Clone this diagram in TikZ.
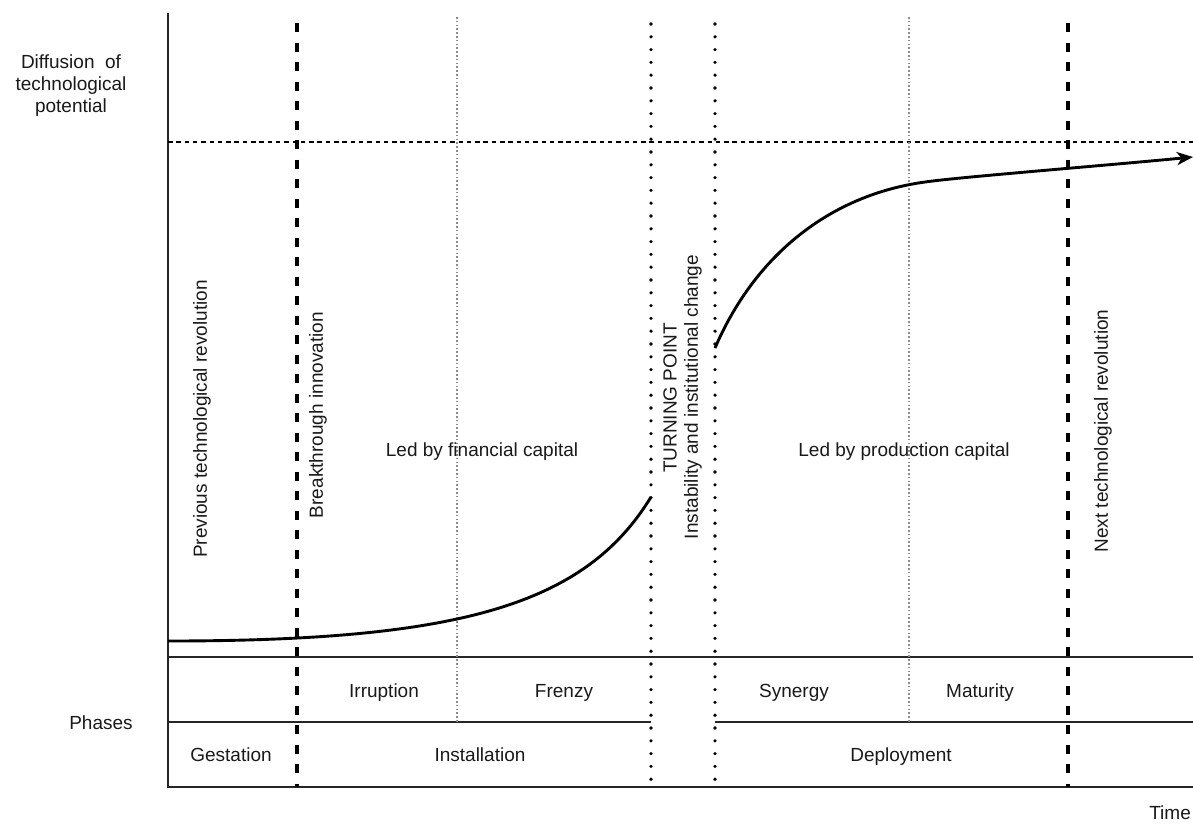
\documentclass[tikz,border=0pt]{standalone}
\usepackage{fontspec}
\setmainfont{Liberation Sans}
\usetikzlibrary{arrows.meta}
\begin{document}
\begin{tikzpicture}[x=1pt,y=-1pt,>={Stealth[length=16pt,width=13pt,inset=4.5pt]},
	lbl/.style={font=\fontsize{19}{22}\selectfont,text=black!90,inner sep=0pt},
	row/.style={lbl,anchor=base},
	vlbl/.style={lbl,rotate=90},
	era/.style={line width=3.2pt,dash pattern=on 9pt off 10.5pt},
	turn/.style={line width=3.6pt,line cap=round,dash pattern=on 0pt off 12.8pt},
	subphase/.style={line width=1.1pt,black!45,dash pattern=on 1.5pt off 2.3pt},
	frame/.style={line width=1.4pt,black!85},
	wave/.style={line width=2.9pt}]
	\useasboundingbox (0,0) rectangle (1193,823);

	%% Axis and grid of the phases
	\draw [frame] (168,13) -- (168,787) -- (1193,787);
	\draw [frame] (168,657) -- (1193,657);
	\draw [frame] (168,722) -- (651,722);
	\draw [frame] (715,722) -- (1193,722);
	\draw [line width=1.3pt,dash pattern=on 4.5pt off 3.8pt] (168,142) -- (1193,142);

	%% Revolutions and turning point
	\draw [era] (297,23) -- (297,787);
	\draw [era] (1068,23) -- (1068,787);
	\draw [turn] (651,24) -- (651,787);
	\draw [turn] (715,24) -- (715,787);
	\draw [subphase] (457,17) -- (457,722);
	\draw [subphase] (909,17) -- (909,722);

	%% Surge
	\coordinate (instStart) at (168,641);
	\coordinate (instEnd) at (651,497);
	\coordinate (depStart) at (715,348);
	\coordinate (depKnee) at (925,182);
	\coordinate (depEnd) at (1193,157);
	\draw [wave] (instStart) .. controls (460,641) and (585,605) .. (instEnd);
	\draw [wave,->] (depStart) .. controls (755,255) and (830,195) .. (depKnee)
		.. controls (960,177) and (1100,166) .. (depEnd);

	%% Axis labels
	\node [lbl,align=center] (diffusion) at (71,86) {Diffusion\ \ of\\technological\\potential};
	\node [row] (phases) at (101,729) {Phases};
	\node [row,anchor=base east] (time) at (1191,819) {Time};

	%% Vertical labels
	\node [vlbl] (previous) at (202,419) {Previous technological revolution};
	\node [vlbl] (breakthrough) at (318,415) {Breakthrough innovation};
	\node [vlbl] (turning) at (670,398) {TURNING POINT};
	\node [vlbl] (instability) at (693,397) {Instability and institutional change};
	\node [vlbl] (next) at (1103,431) {Next technological revolution};

	\node [row] (financial) at (482,456) {Led by financial capital};
	\node [row] (production) at (904,456) {Led by production capital};

	%% Phases
	\node [row] (irruption) at (384,697) {Irruption};
	\node [row] (frenzy) at (564,697) {Frenzy};
	\node [row] (synergy) at (794,697) {Synergy};
	\node [row] (maturity) at (980,697) {Maturity};
	\node [row] (gestation) at (231,761) {Gestation};
	\node [row] (installation) at (480,761) {Installation};
	\node [row] (deployment) at (901,761) {Deployment};
\end{tikzpicture}
\end{document}
